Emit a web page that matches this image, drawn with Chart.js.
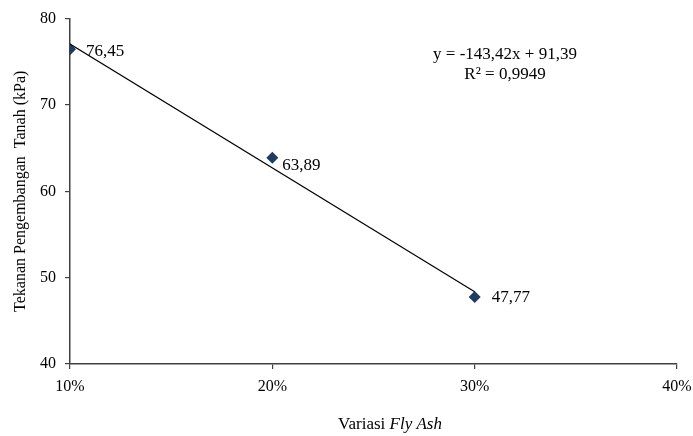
<!DOCTYPE html>
<html>
<head>
<meta charset="utf-8">
<script src="https://cdn.jsdelivr.net/npm/chart.js@4"></script>
<style>
  html, body { margin: 0; padding: 0; background: #fff; }
  #wrap { width: 693px; height: 436px; }
</style>
</head>
<body>
<div id="wrap"><canvas id="chart" width="693" height="436"></canvas></div>
<script>
// data
const flyAsh = [0.10, 0.20, 0.30];
const tekanan = [76.45, 63.89, 47.77];
const pointLabels = ['76,45', '63,89', '47,77'];
const xTicks = [0.10, 0.20, 0.30, 0.40];
const yTicks = [40, 50, 60, 70, 80];
const slope = -143.42;
const intercept = 91.39;
const eqText = ['y = -143,42x + 91,39', 'R² = 0,9949'];

const FONT = '"Liberation Serif", "Times New Roman", serif';

// trendline over the range of the data
const trend = [flyAsh[0], flyAsh[flyAsh.length - 1]].map(x => ({ x: x, y: slope * x + intercept }));

const labelPlugin = {
    id: 'labels',
    afterDatasetsDraw(chart) {
        const ctx = chart.ctx;
        const meta = chart.getDatasetMeta(1);
        ctx.save();
        ctx.fillStyle = '#000';
        ctx.font = '17px ' + FONT;
        ctx.textBaseline = 'middle';
        ctx.textAlign = 'left';
        const offs = [[16, 2], [10, 8], [17, 1]];
        meta.data.forEach((pt, i) => {
            ctx.fillText(pointLabels[i], pt.x + offs[i][0], pt.y + offs[i][1]);
        });
        // equation
        ctx.textAlign = 'center';
        ctx.fillText(eqText[0], 505, 55);
        ctx.fillText(eqText[1], 505, 75);
        // x axis title with italic part
        const a = 'Variasi ', b = 'Fly Ash';
        ctx.font = '17px ' + FONT;
        const wa = ctx.measureText(a).width;
        ctx.font = 'italic 17px ' + FONT;
        const wb = ctx.measureText(b).width;
        let x0 = 390 - (wa + wb) / 2;
        ctx.textAlign = 'left';
        ctx.font = '17px ' + FONT;
        ctx.fillText(a, x0, 425);
        ctx.font = 'italic 17px ' + FONT;
        ctx.fillText(b, x0 + wa, 425);
        ctx.restore();
    }
};

new Chart(document.getElementById('chart'), {
    type: 'scatter',
    data: {
        datasets: [
            { data: trend, showLine: true, borderColor: '#000', borderWidth: 1.2, pointRadius: 0 },
            {
                data: flyAsh.map((x, i) => ({ x: x, y: tekanan[i] })),
                pointStyle: 'rectRot', pointRadius: 6, pointBackgroundColor: '#1F3A63', pointBorderColor: '#1F3A63', borderWidth: 0
            }
        ]
    },
    options: {
        responsive: false,
        animation: false,
        layout: { padding: { left: 8, right: 0, top: 12, bottom: 0 } },
        plugins: { legend: { display: false }, tooltip: { enabled: false } },
        scales: {
            x: {
                type: 'linear', min: 0.1, max: 0.4,
                afterBuildTicks: s => { s.ticks = xTicks.map(v => ({ value: v })); },
                afterFit: s => { s.height = 72; s.paddingRight = 16; s.paddingLeft = 0; },
                grid: { display: true, drawOnChartArea: false, drawTicks: true, tickLength: 5, color: '#404040', lineWidth: 1.2 },
                border: { display: true, color: '#404040', width: 1.5 },
                ticks: { color: '#000', font: { family: FONT, size: 16 }, padding: 8,
                    callback: v => Math.round(v * 100) + '%' }
            },
            y: {
                min: 40, max: 80,
                afterBuildTicks: s => { s.ticks = yTicks.map(v => ({ value: v })); },
                afterFit: s => { s.width = 62; },
                grid: { display: true, drawOnChartArea: false, drawTicks: true, tickLength: 5, color: '#404040', lineWidth: 1.2 },
                border: { display: true, color: '#404040', width: 1.5 },
                ticks: { color: '#000', font: { family: FONT, size: 16 }, padding: 9 },
                title: { display: true, text: 'Tekanan Pengembangan  Tanah (kPa)', color: '#000',
                    font: { family: FONT, size: 16 }, padding: { top: 3, bottom: 4 } }
            }
        }
    },
    plugins: [labelPlugin]
});
</script>
</body>
</html>
